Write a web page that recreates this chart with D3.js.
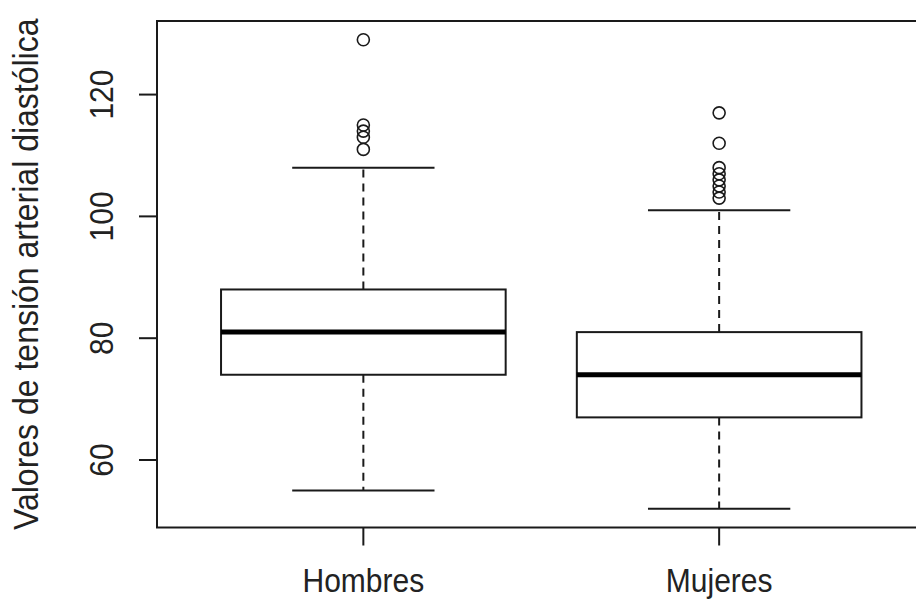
<!DOCTYPE html>
<html>
<head>
<meta charset="utf-8">
<script src="https://cdn.jsdelivr.net/npm/d3@7"></script>
<style>
  html, body { margin: 0; padding: 0; background: #fff; }
  svg { display: block; }
  text { font-family: "Liberation Sans", Arial, sans-serif; fill: #222; }
</style>
</head>
<body>
<svg id="chart" width="916" height="599"></svg>
<script>
// Diastolic blood pressure by sex: five-number summaries and outliers
const groups = ["Hombres", "Mujeres"];
const whiskerLow = [55, 52];
const boxLow = [74, 67];
const medians = [81, 74];
const boxHigh = [88, 81];
const whiskerHigh = [108, 101];
const outliersHombres = [129, 115, 114, 113, 111];
const outliersMujeres = [117, 112, 108, 107, 106, 105, 104, 103];
const yTicks = [60, 80, 100, 120];
const yLabel = "Valores de tensión arterial diastólica";

const outliers = [outliersHombres, outliersMujeres];
const stats = groups.map((g, i) => ({
  name: g, pos: i + 1,
  lo: whiskerLow[i], q1: boxLow[i], med: medians[i], q3: boxHigh[i], hi: whiskerHigh[i],
  out: outliers[i]
}));

const svg = d3.select("#chart");
const plot = { left: 157, right: 925.5, top: 21, bottom: 527.5 };

// x spans 0.5..2.5 with 4% padding on each side, as in base graphics
const x = d3.scaleLinear().domain([0.42, 2.58]).range([plot.left, plot.right]);
const allVals = whiskerLow.concat(whiskerHigh, outliersHombres, outliersMujeres);
const yMin = d3.min(allVals), yMax = d3.max(allVals);
const pad = (yMax - yMin) * 0.04;
const y = d3.scaleLinear().domain([yMin - pad, yMax + pad]).range([plot.bottom, plot.top]);

const ink = "#1a1a1a";
const boxHalf = x(1.4) - x(1);   // box width 0.8
const capHalf = boxHalf / 2;     // staple width 0.4
const tall = 1.1;                // slightly tall lettering

const g = svg.append("g");

stats.forEach(s => {
  const cx = x(s.pos);
  // dashed whiskers
  g.append("line").attr("x1", cx).attr("x2", cx).attr("y1", y(s.q3)).attr("y2", y(s.hi))
    .attr("stroke", ink).attr("stroke-width", 2).attr("stroke-dasharray", "8,6");
  g.append("line").attr("x1", cx).attr("x2", cx).attr("y1", y(s.q1)).attr("y2", y(s.lo))
    .attr("stroke", ink).attr("stroke-width", 2).attr("stroke-dasharray", "8,6");
  // staples
  [s.lo, s.hi].forEach(v => {
    g.append("line").attr("x1", cx - capHalf).attr("x2", cx + capHalf)
      .attr("y1", y(v)).attr("y2", y(v)).attr("stroke", ink).attr("stroke-width", 2);
  });
  // box
  g.append("rect").attr("x", cx - boxHalf).attr("width", 2 * boxHalf)
    .attr("y", y(s.q3)).attr("height", y(s.q1) - y(s.q3))
    .attr("fill", "none").attr("stroke", ink).attr("stroke-width", 2);
  // median
  g.append("line").attr("x1", cx - boxHalf).attr("x2", cx + boxHalf)
    .attr("y1", y(s.med)).attr("y2", y(s.med)).attr("stroke", "#000").attr("stroke-width", 5);
  // outliers
  g.selectAll(null).data(s.out).enter().append("circle")
    .attr("cx", cx).attr("cy", d => y(d)).attr("r", 6)
    .attr("fill", "none").attr("stroke", ink).attr("stroke-width", 1.6);
});

// plot frame
svg.append("rect").attr("x", plot.left).attr("y", plot.top)
  .attr("width", plot.right - plot.left).attr("height", plot.bottom - plot.top)
  .attr("fill", "none").attr("stroke", ink).attr("stroke-width", 2);

// y axis: ticks and rotated labels
const yAxis = svg.append("g");
yTicks.forEach(t => {
  yAxis.append("line").attr("x1", plot.left - 18).attr("x2", plot.left)
    .attr("y1", y(t)).attr("y2", y(t)).attr("stroke", ink).attr("stroke-width", 2);
  yAxis.append("text").attr("transform", `translate(113,${y(t)}) rotate(-90) scale(1,${tall})`)
    .attr("text-anchor", "middle").attr("font-size", 30).text(t);
});

// x axis: ticks and group names
const xAxis = svg.append("g");
stats.forEach(s => {
  xAxis.append("line").attr("x1", x(s.pos)).attr("x2", x(s.pos))
    .attr("y1", plot.bottom).attr("y2", plot.bottom + 18).attr("stroke", ink).attr("stroke-width", 2);
  xAxis.append("text").attr("transform", `translate(${x(s.pos)},592) scale(1,${tall})`)
    .attr("text-anchor", "middle").attr("font-size", 30).text(s.name);
});

// y axis title
svg.append("text")
  .attr("transform", `translate(38,${(plot.top + plot.bottom) / 2}) rotate(-90) scale(1,${tall})`)
  .attr("text-anchor", "middle").attr("font-size", 32).text(yLabel);
</script>
</body>
</html>
